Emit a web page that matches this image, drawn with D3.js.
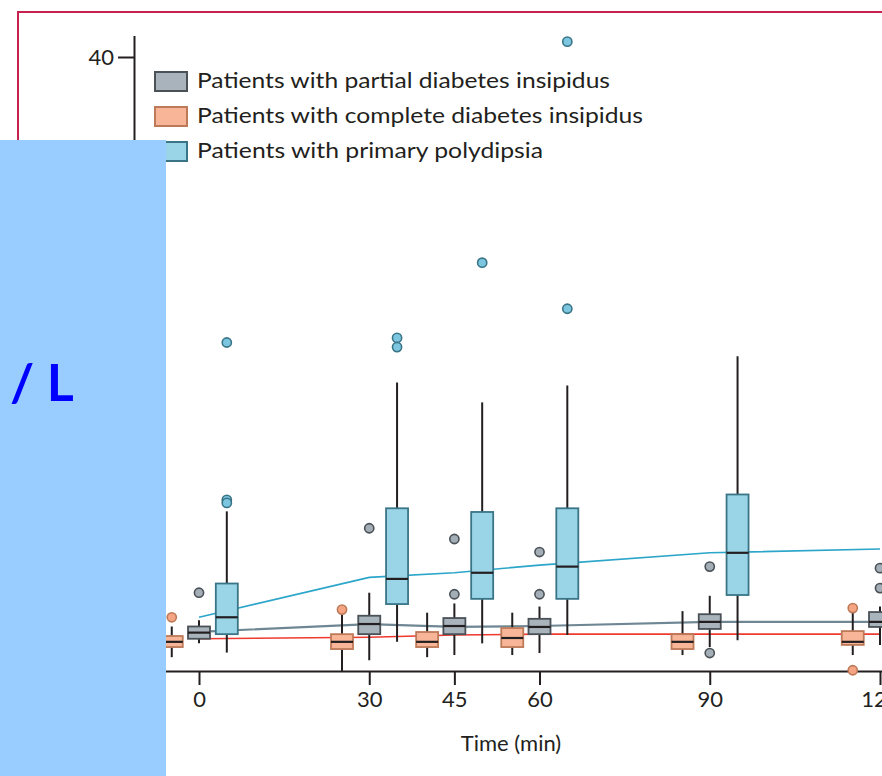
<!DOCTYPE html>
<html>
<head>
<meta charset="utf-8">
<style>
  body { margin: 0; background: #fff; }
  svg { display: block; background: #fff; }
  text { font-family: Lato, "Open Sans", sans-serif; fill: #231f20; }
  .axis path, .axis line { stroke: #231f20; stroke-width: 2; }
  .axis text { font-size: 22px; fill: #231f20; }
</style>
</head>
<body>
<svg id="chart" width="882" height="776"></svg>
<script src="https://cdn.jsdelivr.net/npm/d3@7"></script>
<script>
// time points (min) and axis ticks
const times = [0, 30, 45, 60, 90, 120];
const timeTicks = [0, 30, 45, 60, 90, 120];
const valueTicks = [0, 10, 20, 30, 40];

// box summaries per time: [low whisker, q1, median, q3, high whisker]
const completeBoxes = [
  [0.9, 1.56, 1.9, 2.28, 2.9],
  [0, 1.43, 1.9, 2.4, 3.65],
  [0.9, 1.56, 1.9, 2.54, 3.8],
  [1.04, 1.56, 2.15, 2.8, 3.8],
  [1.04, 1.43, 1.9, 2.4, 3.9],
  [1.04, 1.7, 1.9, 2.6, 3.8]
];
const completeOutliers = [[3.5], [4.0], [], [], [], [4.1, 0.05]];
const completeLine = [2.1, 2.2, 2.35, 2.4, 2.4, 2.4];

const partialBoxes = [
  [1.8, 2.1, 2.5, 2.9, 3.3],
  [0.7, 2.4, 3.06, 3.6, 5.1],
  [1.04, 2.4, 2.93, 3.45, 4.4],
  [1.17, 2.4, 2.87, 3.4, 4.2],
  [1.56, 2.74, 3.2, 3.7, 4.9],
  [1.7, 2.87, 3.2, 3.84, 4.2]
];
const partialOutliers = [[5.1], [9.3], [8.6, 5.0], [7.75, 5.0], [6.8, 1.17], [6.7, 5.4]];
const partialLine = [2.55, 3.06, 2.87, 2.93, 3.2, 3.2];

const polydipsiaBoxes = [
  [1.2, 2.4, 3.5, 5.7, 10.4],
  [1.9, 4.36, 6.0, 10.6, 18.8],
  [1.8, 4.7, 6.4, 10.36, 17.5],
  [2.35, 4.7, 6.8, 10.6, 18.6],
  [2.0, 4.95, 7.7, 11.5, 20.5],
  null
];
const polydipsiaOutliers = [[11.15, 10.95, 21.4], [21.7, 21.1], [26.6], [23.6, 41.0], [], []];
const polydipsiaLine = [3.5, 6.1, 6.4, 6.9, 7.7, 7.95];

const legendLabels = [
  "Patients with partial diabetes insipidus",
  "Patients with complete diabetes insipidus",
  "Patients with primary polydipsia"
];

const svg = d3.select("#chart");

const x = d3.scaleLinear().domain([0, 120]).range([199, 880]);
const y = d3.scaleLinear().domain([0, 40]).range([671, 57]);

const groups = [
  { boxes: completeBoxes, outliers: completeOutliers, line: completeLine, shift: -4.8,
    fill: "#f8b597", stroke: "#bd7a58", dot: "#f5a583", lineColor: "#ef3a2f" },
  { boxes: partialBoxes, outliers: partialOutliers, line: partialLine, shift: 0,
    fill: "#a9b3bc", stroke: "#4a5157", dot: "#a4aeb7", lineColor: "#6f8794" },
  { boxes: polydipsiaBoxes, outliers: polydipsiaOutliers, line: polydipsiaLine, shift: 4.9,
    fill: "#99d5e7", stroke: "#3a7587", dot: "#7cc6e0", lineColor: "#2ba5c9" }
];

// frame
svg.append("rect")
  .attr("x", 18).attr("y", 12)
  .attr("width", 920).attr("height", 820)
  .attr("fill", "none")
  .attr("stroke", "#c6214f")
  .attr("stroke-width", 2);

// connecting lines behind boxes
const line = d3.line().x((d, i) => x(times[i])).y(d => y(d));
groups.forEach(g => {
  svg.append("path")
    .datum(g.line)
    .attr("d", line)
    .attr("fill", "none")
    .attr("stroke", g.lineColor)
    .attr("stroke-width", g.shift === 0 ? 2.2 : 1.6);
});

// axes
const xAxisScale = x.copy().domain([-30, 130]).range([x(-30), x(130)]);
svg.append("g")
  .attr("class", "axis")
  .attr("transform", `translate(0,${y(0)})`)
  .call(d3.axisBottom(xAxisScale).tickValues(timeTicks).tickSize(14).tickPadding(6).tickSizeOuter(0));

const yAxisScale = y.copy().domain([0, 41.4]).range([y(0), y(41.4)]);
svg.append("g")
  .attr("class", "axis")
  .attr("transform", `translate(${x(0) - 65},0)`)
  .call(d3.axisLeft(yAxisScale).tickValues(valueTicks).tickSize(16).tickPadding(4).tickSizeOuter(0));

// boxes
const boxW = 22;
groups.forEach(g => {
  const gg = svg.append("g");
  g.boxes.forEach((b, i) => {
    if (!b) return;
    const cx = x(times[i] + g.shift);
    gg.append("line")
      .attr("x1", cx).attr("x2", cx)
      .attr("y1", y(b[0])).attr("y2", y(b[4]))
      .attr("stroke", "#231f20").attr("stroke-width", 2);
    gg.append("rect")
      .attr("x", cx - boxW / 2).attr("y", y(b[3]))
      .attr("width", boxW).attr("height", y(b[1]) - y(b[3]))
      .attr("fill", g.fill).attr("stroke", g.stroke).attr("stroke-width", 1.8);
    gg.append("line")
      .attr("x1", cx - boxW / 2).attr("x2", cx + boxW / 2)
      .attr("y1", y(b[2])).attr("y2", y(b[2]))
      .attr("stroke", "#231f20").attr("stroke-width", 2.2);
  });
  g.outliers.forEach((list, i) => {
    list.forEach(v => {
      gg.append("circle")
        .attr("cx", x(times[i] + g.shift)).attr("cy", y(v))
        .attr("r", 4.6)
        .attr("fill", g.dot).attr("stroke", g.stroke).attr("stroke-width", 1.6);
    });
  });
});

// legend
const legendOrder = [groups[1], groups[0], groups[2]];
const legendWidths = [413, 446, 346];
const legend = svg.append("g");
legendLabels.forEach((label, i) => {
  const row = legend.append("g").attr("transform", `translate(155,${72 + i * 35})`);
  row.append("rect")
    .attr("width", 32).attr("height", 19)
    .attr("fill", legendOrder[i].fill)
    .attr("stroke", legendOrder[i].stroke)
    .attr("stroke-width", 2);
  row.append("text")
    .attr("x", 42).attr("y", 16)
    .attr("font-size", 21)
    .attr("textLength", legendWidths[i])
    .attr("lengthAdjust", "spacingAndGlyphs")
    .text(label);
});

svg.append("text")
  .attr("x", 511).attr("y", 751)
  .attr("text-anchor", "middle")
  .attr("font-size", 22)
  .text("Time (min)");

// cover panel over the y axis title
svg.append("rect")
  .attr("x", 0).attr("y", 140)
  .attr("width", 166).attr("height", 636)
  .attr("fill", "#99ccff");
svg.append("text")
  .attr("x", 10).attr("y", 401)
  .attr("font-family", "Liberation Sans, Arial, sans-serif")
  .attr("font-weight", "bold")
  .attr("font-size", 52)
  .style("fill", "#0000ff")
  .text("/ L");
</script>
</body>
</html>
